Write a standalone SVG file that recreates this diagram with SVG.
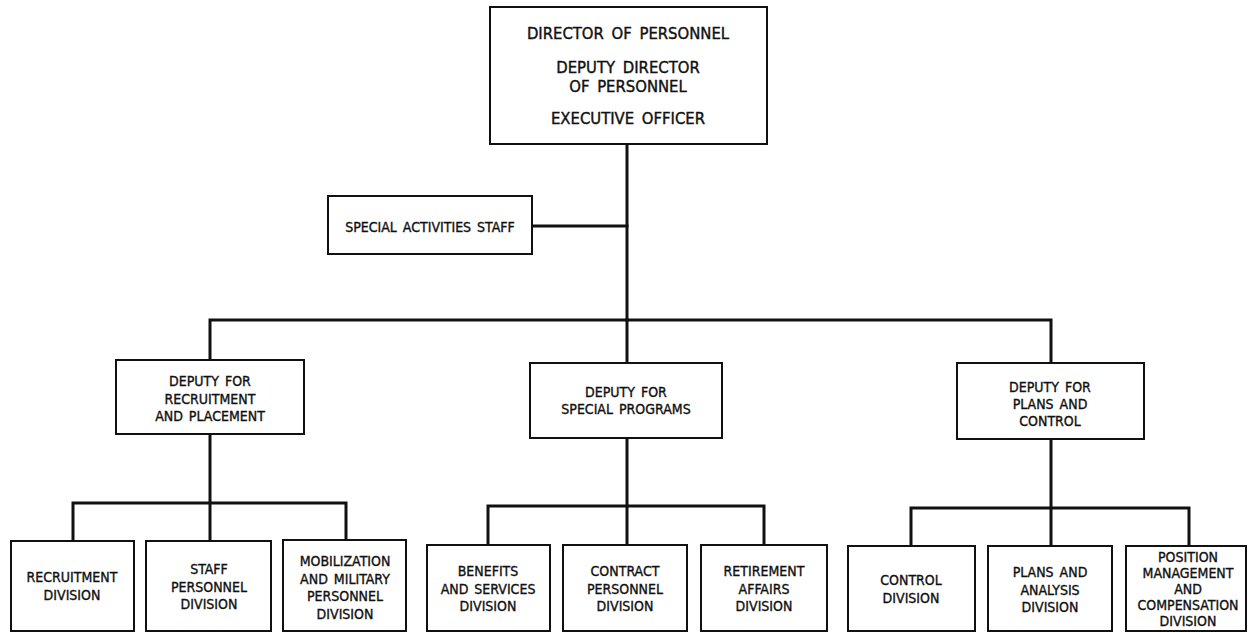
<svg xmlns="http://www.w3.org/2000/svg" width="1248" height="633" viewBox="0 0 1248 633">
  <style>
    .box { fill: #ffffff; stroke: #111111; stroke-width: 2; }
    .wire { fill: none; stroke: #111111; stroke-width: 3; stroke-linecap: square; }
    text { font-family: "DejaVu Sans Condensed", "DejaVu Sans", "Liberation Sans", sans-serif; font-stretch: condensed; fill: #111111; stroke: #111111; stroke-width: 0.35; text-anchor: middle; dominant-baseline: central; font-size: 14px; word-spacing: 2px; }
    .big { font-size: 16.5px; word-spacing: 3px; stroke-width: 0.4; }
  </style>
  <rect width="1248" height="633" fill="#ffffff"/>

  <!-- connectors -->
  <g id="connectors">
    <path class="wire" d="M627 144 V320"/>
    <path class="wire" d="M532 226 H627"/>
    <path class="wire" d="M210 360 V320 H1051 V363"/>
    <path class="wire" d="M627 320 V363"/>
    <!-- recruitment and placement branch -->
    <path class="wire" d="M210 434 V541"/>
    <path class="wire" d="M73 541 V503 H346 V540"/>
    <!-- special programs branch -->
    <path class="wire" d="M627 438 V545"/>
    <path class="wire" d="M488 545 V506 H764 V545"/>
    <!-- plans and control branch -->
    <path class="wire" d="M1051 439 V546"/>
    <path class="wire" d="M911 546 V508 H1189 V546"/>
  </g>

  <g id="director">
    <rect class="box" x="490" y="7" width="277" height="137"/>
    <text class="big" x="628" y="33">DIRECTOR OF PERSONNEL</text>
    <text class="big" x="628" y="67">DEPUTY DIRECTOR</text>
    <text class="big" x="628" y="86">OF PERSONNEL</text>
    <text class="big" x="628" y="118">EXECUTIVE OFFICER</text>
  </g>

  <g id="special-activities">
    <rect class="box" x="328" y="196" width="204" height="58"/>
    <text x="430" y="227">SPECIAL ACTIVITIES STAFF</text>
  </g>

  <g id="deputy-recruitment">
    <rect class="box" x="116" y="360" width="188" height="74"/>
    <text x="210" y="381">DEPUTY FOR</text>
    <text x="210" y="398.5">RECRUITMENT</text>
    <text x="210" y="416">AND PLACEMENT</text>
  </g>

  <g id="deputy-special">
    <rect class="box" x="530" y="363" width="192" height="75"/>
    <text x="626" y="391.5">DEPUTY FOR</text>
    <text x="626" y="409">SPECIAL PROGRAMS</text>
  </g>

  <g id="deputy-plans">
    <rect class="box" x="957" y="363" width="187" height="76"/>
    <text x="1050" y="387">DEPUTY FOR</text>
    <text x="1050" y="404">PLANS AND</text>
    <text x="1050" y="421">CONTROL</text>
  </g>

  <g id="recruitment-division">
    <rect class="box" x="11" y="541" width="123" height="90"/>
    <text x="72" y="577">RECRUITMENT</text>
    <text x="72" y="594.5">DIVISION</text>
  </g>

  <g id="staff-personnel-division">
    <rect class="box" x="146" y="541" width="125" height="90"/>
    <text x="209" y="569">STAFF</text>
    <text x="209" y="586.5">PERSONNEL</text>
    <text x="209" y="604">DIVISION</text>
  </g>

  <g id="mobilization-division">
    <rect class="box" x="283" y="540" width="123" height="91"/>
    <text x="345" y="561">MOBILIZATION</text>
    <text x="345" y="578.5">AND MILITARY</text>
    <text x="345" y="596">PERSONNEL</text>
    <text x="345" y="613.5">DIVISION</text>
  </g>

  <g id="benefits-division">
    <rect class="box" x="427" y="545" width="123" height="86"/>
    <text x="488" y="571">BENEFITS</text>
    <text x="488" y="588.5">AND SERVICES</text>
    <text x="488" y="606">DIVISION</text>
  </g>

  <g id="contract-division">
    <rect class="box" x="563" y="545" width="124" height="86"/>
    <text x="625" y="571">CONTRACT</text>
    <text x="625" y="588.5">PERSONNEL</text>
    <text x="625" y="606">DIVISION</text>
  </g>

  <g id="retirement-division">
    <rect class="box" x="701" y="545" width="126" height="86"/>
    <text x="764" y="571">RETIREMENT</text>
    <text x="764" y="588.5">AFFAIRS</text>
    <text x="764" y="606">DIVISION</text>
  </g>

  <g id="control-division">
    <rect class="box" x="848" y="546" width="127" height="85"/>
    <text x="911" y="580">CONTROL</text>
    <text x="911" y="597.5">DIVISION</text>
  </g>

  <g id="plans-analysis-division">
    <rect class="box" x="988" y="546" width="124" height="85"/>
    <text x="1050" y="572">PLANS AND</text>
    <text x="1050" y="589.5">ANALYSIS</text>
    <text x="1050" y="607">DIVISION</text>
  </g>

  <g id="position-division">
    <rect class="box" x="1126" y="546" width="120" height="85"/>
    <text x="1188" y="557">POSITION</text>
    <text x="1188" y="573">MANAGEMENT</text>
    <text x="1188" y="589">AND</text>
    <text x="1188" y="605">COMPENSATION</text>
    <text x="1188" y="621">DIVISION</text>
  </g>
</svg>
